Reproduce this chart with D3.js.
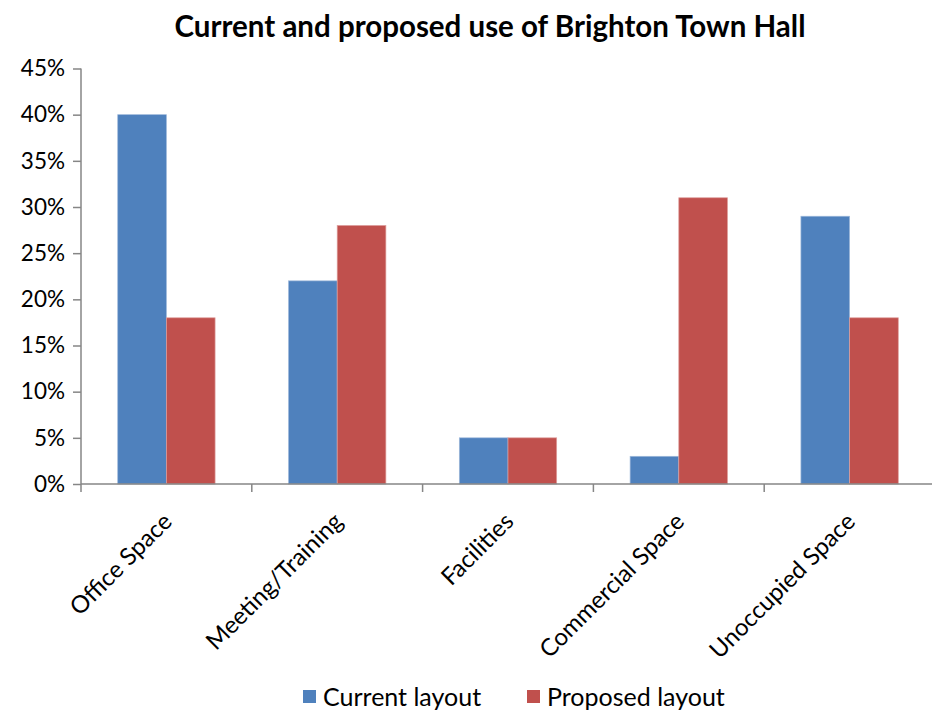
<!DOCTYPE html>
<html>
<head>
<meta charset="utf-8">
<script src="https://cdn.jsdelivr.net/npm/d3@7"></script>
<style>
  body { margin: 0; background: #fff; }
  text { font-family: Lato, "Open Sans", sans-serif; fill: #000; }
</style>
</head>
<body>
<div id="chart"></div>
<script>
// Data
var categories = ["Office Space", "Meeting/Training", "Facilities", "Commercial Space", "Unoccupied Space"];
var currentLayout = [40, 22, 5, 3, 29];
var proposedLayout = [18, 28, 5, 31, 18];
var seriesNames = ["Current layout", "Proposed layout"];
var yTicks = [0, 5, 10, 15, 20, 25, 30, 35, 40, 45];

var colors = ["#4F81BD", "#C0504D"];
var strokes = ["#9DB8DB", "#DE9E9C"];

var svgWidth = 932;
var svgHeight = 711;

var margin = { top: 68.5, right: -3, bottom: 227, left: 81 };
var width = svgWidth - margin.left - margin.right;
var height = svgHeight - margin.top - margin.bottom;

var svg = d3.select("#chart")
  .append("svg")
  .attr("width", svgWidth)
  .attr("height", svgHeight);

// Title
svg.append("text")
  .attr("x", 490)
  .attr("y", 37)
  .attr("text-anchor", "middle")
  .attr("font-size", 29.5)
  .attr("font-weight", "bold")
  .text("Current and proposed use of Brighton Town Hall");

var chartGroup = svg.append("g")
  .attr("transform", `translate(${margin.left}, ${margin.top})`);

var xScale = d3.scaleBand()
  .domain(categories)
  .range([0, width])
  .paddingInner(0)
  .paddingOuter(0);

var xSub = d3.scaleBand()
  .domain(seriesNames)
  .range([xScale.bandwidth() * 0.215, xScale.bandwidth() * 0.785]);

var yScale = d3.scaleLinear()
  .domain([0, 45])
  .range([height, 0]);

// Bars
var rows = categories.map((c, i) => ({ cat: c, values: [currentLayout[i], proposedLayout[i]] }));

var groups = chartGroup.selectAll(".group")
  .data(rows)
  .enter()
  .append("g")
  .attr("transform", d => `translate(${xScale(d.cat)}, 0)`);

groups.selectAll("rect")
  .data(d => d.values.map((v, j) => ({ name: seriesNames[j], value: v, j: j })))
  .enter()
  .append("rect")
  .attr("x", d => xSub(d.name))
  .attr("y", d => yScale(d.value))
  .attr("width", xSub.bandwidth())
  .attr("height", d => height - yScale(d.value))
  .attr("fill", d => colors[d.j])
  .attr("stroke", d => strokes[d.j])
  .attr("stroke-width", 0.7);

// Axes
var leftAxis = d3.axisLeft(yScale)
  .tickValues(yTicks)
  .tickFormat(d => d + "%")
  .tickSize(8)
  .tickPadding(8);

var yAxis = chartGroup.append("g").call(leftAxis);
yAxis.select(".domain").attr("stroke", "#868686").attr("stroke-width", 1.5).attr("d", `M0,0V${height}`);
yAxis.selectAll(".tick line").attr("stroke", "#868686").attr("stroke-width", 1.5);
yAxis.selectAll(".tick text").attr("font-size", 22.5).attr("fill", "#000");

var tickPositions = categories.map(c => xScale(c)).concat([width]);
var xAxisG = chartGroup.append("g").attr("transform", `translate(0, ${height})`);
xAxisG.append("line")
  .attr("x1", 0).attr("x2", width)
  .attr("stroke", "#868686").attr("stroke-width", 1.5);
xAxisG.selectAll(".xtick")
  .data(tickPositions)
  .enter()
  .append("line")
  .attr("x1", d => d).attr("x2", d => d)
  .attr("y1", 0).attr("y2", 8)
  .attr("stroke", "#868686").attr("stroke-width", 1.5);

xAxisG.selectAll(".xlabel")
  .data(categories)
  .enter()
  .append("text")
  .attr("text-anchor", "end")
  .attr("font-size", 24)
  .attr("transform", d => `translate(${xScale(d) + xScale.bandwidth() / 2 + 7}, 39) rotate(-45)`)
  .text(d => d);

// Legend
var legendItems = [{ x: 303, name: seriesNames[0], c: colors[0] }, { x: 527, name: seriesNames[1], c: colors[1] }];
var legend = svg.selectAll(".legend")
  .data(legendItems)
  .enter()
  .append("g")
  .attr("transform", d => `translate(${d.x}, 690)`);
legend.append("rect")
  .attr("width", 13).attr("height", 13)
  .attr("fill", d => d.c);
legend.append("text")
  .attr("x", 20)
  .attr("y", 16)
  .attr("font-size", 25)
  .text(d => d.name);
</script>
</body>
</html>
